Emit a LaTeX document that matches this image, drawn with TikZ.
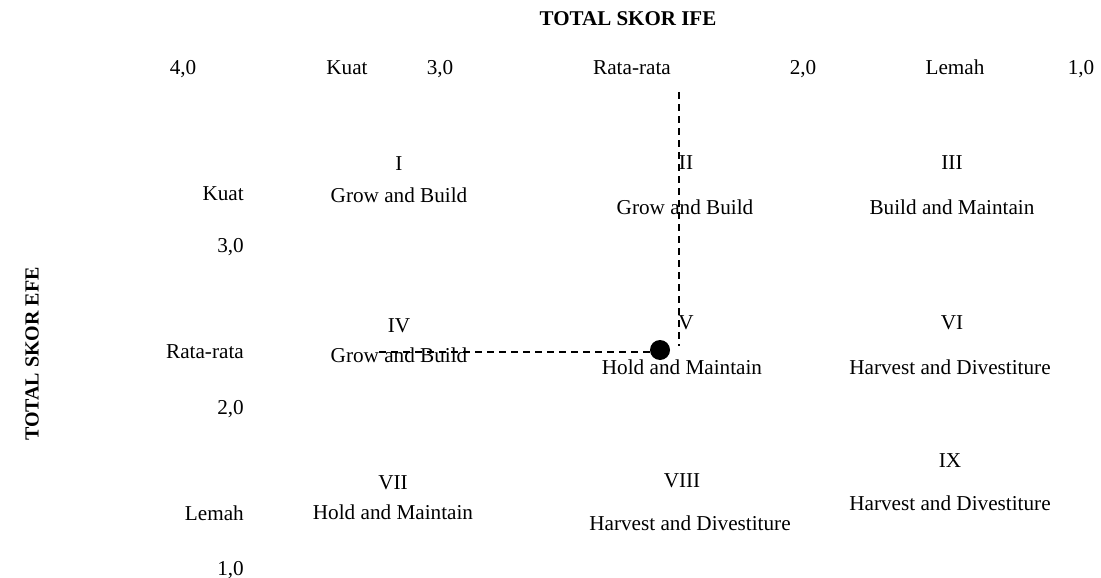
\documentclass[tikz,border=0pt]{standalone}
\usepackage{fontspec}
\setmainfont{Liberation Serif}
\begin{document}
\begin{tikzpicture}[x=1pt,y=-1pt,
  lbl/.style={inner sep=0pt,font=\fontsize{21.2}{25}\selectfont},
  topl/.style={lbl,anchor=base},
  ttl/.style={inner sep=0pt,font=\fontsize{21}{25}\selectfont\bfseries},
  axl/.style={lbl,anchor=base east},
  dsh/.style={line width=1.4pt,dash pattern=on 7pt off 5pt},
  dotst/.style={circle,fill=black,minimum size=20pt,inner sep=0pt}]
\useasboundingbox (0,0) rectangle (1101,578);
% titles
\node[ttl] (ife) at (628,19) {TOTAL SKOR IFE};
\node[ttl,rotate=90,font=\fontsize{20}{24}\selectfont\bfseries] (efe) at (32,354) {TOTAL SKOR EFE};
% top scale
\node[topl] (t40) at (183,75) {4,0};
\node[topl] (tk) at (347,75) {Kuat};
\node[topl] (t30) at (440,75) {3,0};
\node[topl] (tr) at (632,75) {Rata-rata};
\node[topl] (t20) at (803,75) {2,0};
\node[topl] (tl) at (955,75) {Lemah};
\node[topl] (t10) at (1081,75) {1,0};
% left scale
\node[axl] (lk) at (244,200) {Kuat};
\node[axl] (l30) at (244,252) {3,0};
\node[axl] (lr) at (244,358) {Rata-rata};
\node[axl] (l20) at (244,414) {2,0};
\node[axl] (ll) at (244,520) {Lemah};
\node[axl] (l10) at (244,575) {1,0};
% cells
\node[lbl] (c1n) at (399,164) {I};
\node[lbl] (c1t) at (399,195) {Grow and Build};
\node[lbl] (c2n) at (686,163) {II};
\node[lbl] (c2t) at (685,207) {Grow and Build};
\node[lbl] (c3n) at (952,163) {III};
\node[lbl] (c3t) at (952,207) {Build and Maintain};
\node[lbl] (c4n) at (399,326) {IV};
\node[lbl] (c4t) at (399,355) {Grow and Build};
\node[lbl] (c5n) at (686,323) {V};
\node[lbl] (c5t) at (682,367) {Hold and Maintain};
\node[lbl] (c6n) at (952,323) {VI};
\node[lbl] (c6t) at (950,367) {Harvest and Divestiture};
\node[lbl] (c7n) at (393,483) {VII};
\node[lbl] (c7t) at (393,512) {Hold and Maintain};
\node[lbl] (c8n) at (682,481) {VIII};
\node[lbl] (c8t) at (690,523) {Harvest and Divestiture};
\node[lbl] (c9n) at (950,461) {IX};
\node[lbl] (c9t) at (950,503) {Harvest and Divestiture};
% position
\node[dotst] (pt) at (660,350) {};
\coordinate (vtop) at (679,92);
\coordinate (vbot) at (679,346);
\coordinate (hleft) at (377,352);
\draw[dsh] (vtop) -- (vbot);
\draw[dsh] (pt.west |- hleft) -- (hleft);
\end{tikzpicture}
\end{document}
